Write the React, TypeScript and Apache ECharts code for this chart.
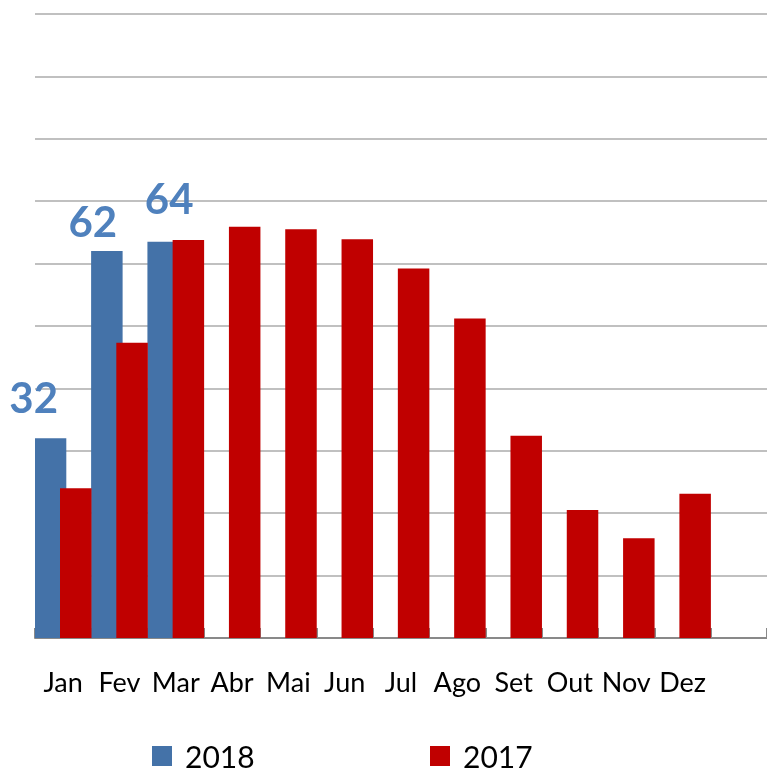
import React, { useEffect, useRef } from "react";
import * as echarts from "echarts";

const categories = ["Jan", "Fev", "Mar", "Abr", "Mai", "Jun", "Jul", "Ago", "Set", "Out", "Nov", "Dez", ""];
const series2018 = [32, 62, 63.5, null, null, null, null, null, null, null, null, null, null];
const series2017 = [24, 47.3, 63.8, 65.9, 65.5, 63.9, 59.2, 51.2, 32.4, 20.5, 16, 23.1, null];
const seriesNames = ["2018", "2017"];
const yMax = 100;
const yInterval = 10;

const FONT = "Lato, 'Open Sans', sans-serif";

export default function App() {
  const ref = useRef<HTMLDivElement>(null);
  useEffect(() => {
    if (!ref.current) return;
    const chart = echarts.init(ref.current, null, { renderer: "svg" });
    const labelOffsets: [number, number][] = [[-17, -15], [-14, -4], [6, -18]];
    const data2018 = series2018.map((v, i) =>
      v == null
        ? null
        : {
            value: v,
            label: {
              show: true,
              position: "top",
              offset: labelOffsets[i] || [0, 0],
              formatter: (p: any) => String(Math.round(p.value)),
            },
          }
    );
    const legendText = {
      fontFamily: FONT,
      fontSize: 30,
      color: "#000",
      padding: [0, 0, 0, 8],
    };
    chart.setOption({
      animation: false,
      textStyle: { fontFamily: FONT },
      grid: { left: 35, right: 0, top: 14, bottom: 135, containLabel: false },
      legend: [
        {
          data: [seriesNames[0]],
          left: 152,
          top: 741,
          padding: 0,
          itemWidth: 20,
          itemHeight: 20,
          icon: "rect",
          textStyle: legendText,
        },
        {
          data: [seriesNames[1]],
          left: 430,
          top: 741,
          padding: 0,
          itemWidth: 20,
          itemHeight: 20,
          icon: "rect",
          textStyle: legendText,
        },
      ],
      xAxis: {
        type: "category",
        data: categories,
        axisLine: { show: true, lineStyle: { color: "#898989", width: 2 } },
        axisTick: { show: true, inside: true, length: 10, lineStyle: { color: "#898989", width: 2 } },
        axisLabel: { fontFamily: FONT, fontSize: 27, color: "#000", margin: 30, interval: 0 },
        splitLine: { show: false },
      },
      yAxis: {
        type: "value",
        min: 0,
        max: yMax,
        interval: yInterval,
        axisLine: { show: false },
        axisTick: { show: false },
        axisLabel: { show: false },
        splitLine: { show: true, lineStyle: { color: "#c0c0c0", width: 2 } },
      },
      series: [
        {
          name: seriesNames[0],
          type: "bar",
          data: data2018,
          barWidth: 31.5,
          barGap: "-20%",
          itemStyle: { color: "#4472a8" },
          label: {
            fontFamily: FONT,
            fontSize: 42,
            fontWeight: "bold",
            color: "#4f81bd",
          },
        },
        {
          name: seriesNames[1],
          type: "bar",
          data: series2017,
          barWidth: 31.5,
          barGap: "-20%",
          itemStyle: { color: "#c00000" },
        },
      ],
    });
    return () => chart.dispose();
  }, []);
  return <div ref={ref} style={{ position: "fixed", left: 0, top: 0, width: 767, height: 773 }} />;
}
